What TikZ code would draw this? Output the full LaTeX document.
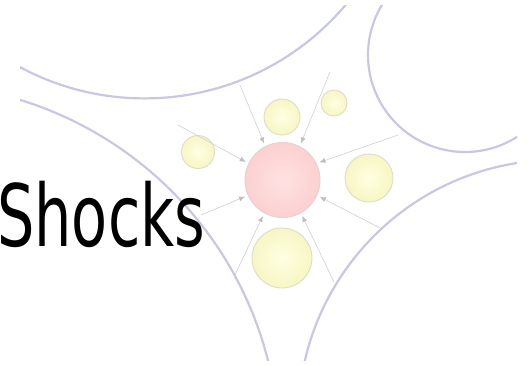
\documentclass[tikz,border=0pt]{standalone}
\usepackage{fontspec}
\newfontfamily\titlefont{DejaVu Sans}
\usetikzlibrary{arrows.meta}
\definecolor{arccol}{RGB}{200,200,228}
\definecolor{arrowcol}{RGB}{208,208,208}
\definecolor{tipcol}{RGB}{190,190,190}
\definecolor{yelin}{RGB}{255,255,226}
\definecolor{yelout}{RGB}{246,246,196}
\definecolor{yelbd}{RGB}{222,222,200}
\definecolor{redin}{RGB}{255,226,226}
\definecolor{redout}{RGB}{252,208,208}
\definecolor{redbd}{RGB}{230,208,208}
\tikzset{
  bigarc/.style={draw=arccol, line width=2.2pt},
  ball/.style={circle, draw=yelbd, line width=0.9pt, inner sep=0pt,
    inner color=yelin, outer color=yelout},
  core/.style={circle, draw=redbd, line width=0.9pt, inner sep=0pt,
    inner color=redin, outer color=redout},
  feed/.style={draw=arrowcol, line width=0.6pt,
    -{Latex[length=6pt,width=5pt,color=tipcol]}, shorten >=3pt},
}
\begin{document}
\begin{tikzpicture}[x=1pt,y=-1pt]
\useasboundingbox (0,0) rectangle (529,365);
\fill[white] (0,0) rectangle (529,365);
\begin{scope}
  \clip (20,5) rectangle (517,360);
  \draw[bigarc] (144.5,-164.6) circle[radius=263];
  \draw[bigarc] (465,55) circle[radius=97];
  \draw[bigarc] (-87.4,450.4) circle[radius=366.5];
  \draw[bigarc] (557.3,418.9) circle[radius=259];
\end{scope}
% free ends of the feeding arrows
\coordinate (s1) at (240,85);
\coordinate (s2) at (330,72);
\coordinate (s3) at (178,125);
\coordinate (s4) at (398,135);
\coordinate (s5) at (201,215);
\coordinate (s6) at (380,228);
\coordinate (s7) at (234,277);
\coordinate (s8) at (334,282);
% circles
\node[core, minimum size=75pt] (red) at (282.5,180) {};
\node[ball, minimum size=36pt] (y1) at (282,117) {};
\node[ball, minimum size=26pt] (y2) at (334,103) {};
\node[ball, minimum size=33pt] (y3) at (198,152) {};
\node[ball, minimum size=48pt] (y4) at (369,178) {};
\node[ball, minimum size=60pt] (y5) at (282,258) {};
% arrows
\draw[feed] (s1) -- (red.117);
\draw[feed] (s2) -- (red.63);
\draw[feed] (s3) -- (red.154);
\draw[feed] (s4) -- (red.26);
\draw[feed] (s5) -- (red.204);
\draw[feed] (s6) -- (red.336);
\draw[feed] (s7) -- (red.241);
\draw[feed] (s8) -- (red.299);
% title
\node[anchor=base west, inner sep=0pt] (title) at (-3,246)
  {\scalebox{0.685}[1]{\titlefont\fontsize{86}{90}\selectfont Shocks}};
\end{tikzpicture}
\end{document}
